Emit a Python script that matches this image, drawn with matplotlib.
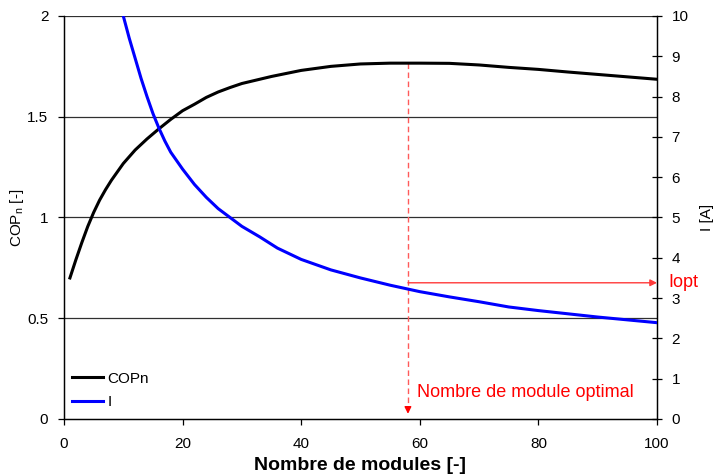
import matplotlib
matplotlib.use("Agg")
import matplotlib.pyplot as plt

plt.rcParams['font.family'] = ['Liberation Sans', 'DejaVu Sans']

# Normalised COP versus number of modules
n_cop = [1, 2, 3, 4, 5, 6, 7, 8, 10, 12, 14, 16, 18, 20, 22, 24, 26, 28, 30,
         35, 40, 45, 50, 55, 60, 65, 70, 75, 80, 85, 90, 95, 100]
cop_n = [0.70, 0.79, 0.875, 0.955, 1.025, 1.086, 1.138, 1.185, 1.268, 1.335,
         1.39, 1.44, 1.487, 1.53, 1.562, 1.596, 1.623, 1.645, 1.665, 1.70,
         1.73, 1.75, 1.762, 1.766, 1.766, 1.765, 1.757, 1.745, 1.735, 1.722,
         1.71, 1.698, 1.686]

# Current versus number of modules
n_cur = [10, 11, 12, 13, 14, 15, 16, 17, 18, 20, 22, 24, 26, 28, 30, 33, 36,
         40, 45, 50, 55, 60, 65, 70, 75, 80, 85, 90, 95, 100]
current = [10.0, 9.45, 8.95, 8.45, 8.0, 7.58, 7.22, 6.9, 6.62, 6.2, 5.82,
           5.5, 5.22, 5.0, 4.78, 4.52, 4.24, 3.96, 3.70, 3.50, 3.32, 3.16,
           3.03, 2.91, 2.78, 2.69, 2.61, 2.53, 2.46, 2.39]

# Optimum markers
n_opt = 58
cop_opt = 1.766
i_opt = 3.38

fig = plt.figure(figsize=(7.15, 4.74), dpi=100)
ax = fig.add_axes([64 / 715, 55 / 474, 593 / 715, 403 / 474])
ax2 = ax.twinx()

ax.set_xlim(0, 100)
ax.set_ylim(0, 2)
ax2.set_ylim(0, 10)

ax.set_xticks([0, 20, 40, 60, 80, 100])
ax.set_yticks([0, 0.5, 1, 1.5, 2])
ax.set_yticklabels(['0', '0.5', '1', '1.5', '2'])
ax2.set_yticks(range(0, 11))

for y in [0.5, 1, 1.5, 2]:
    ax.axhline(y, color='#303030', lw=0.9, zorder=1)

l1, = ax.plot(n_cop, cop_n, color='black', lw=2.2, zorder=3, label='COPn',
              solid_joinstyle='round')
l2, = ax2.plot(n_cur, current, color='#0000ff', lw=2.2, zorder=3, label='I',
               solid_joinstyle='round')
ax2.set_zorder(ax.get_zorder() + 1)
ax2.patch.set_visible(False)

for a in (ax, ax2):
    for s in a.spines.values():
        s.set_color('black')
        s.set_linewidth(0.9)
    a.spines['top'].set_visible(False)

ax.tick_params(axis='y', direction='out', length=4.3, width=0.9,
               labelsize=11, colors='black', pad=7)
ax.tick_params(axis='x', direction='out', length=4.3, width=0.9,
               labelsize=11, colors='black', pad=9)
ax2.tick_params(axis='y', direction='inout', length=7.2, width=0.9,
                labelsize=11, pad=7)

ax.set_xlabel('Nombre de modules [-]', fontsize=14, fontweight='bold')
ax.xaxis.set_label_coords(0.5, -0.095)
ax.set_ylabel('COP$_\\mathregular{n}$ [-]', fontsize=11)
ax.yaxis.set_label_coords(-0.064, 0.5)
ax2.set_ylabel('I [A]', fontsize=11)
ax2.yaxis.set_label_coords(1.072, 0.5)

# Optimal number of modules: dashed drop line with arrow
ax.plot([n_opt, n_opt], [cop_opt, 0.04], color='#ff5a5a', lw=1.0,
        ls=(0, (4, 2.5)), zorder=2)
ax.annotate('', xy=(n_opt, 0.012), xytext=(n_opt, 0.06),
            arrowprops=dict(arrowstyle='-|>', color='red', lw=1.0,
                            mutation_scale=10), zorder=4)
ax.text(n_opt + 1.6, 0.13, 'Nombre de module optimal', color='red',
        fontsize=13, va='center', ha='left')

# Optimal current: horizontal arrow towards right axis
ax2.annotate('', xy=(100, i_opt), xytext=(n_opt, i_opt),
             arrowprops=dict(arrowstyle='-|>', color='#ff3a3a', lw=1.0,
                             mutation_scale=10, shrinkA=0, shrinkB=0))
ax2.text(101.9, i_opt, 'Iopt', color='red', fontsize=13, va='center',
         ha='left', clip_on=False)

leg = ax.legend(handles=[l1, l2], loc='lower left', frameon=False,
                fontsize=11, handlelength=2.0, handletextpad=0.33,
                labelspacing=0.6, bbox_to_anchor=(0.0034, 0.01),
                borderaxespad=0)

fig.savefig('out.png', dpi=100)
